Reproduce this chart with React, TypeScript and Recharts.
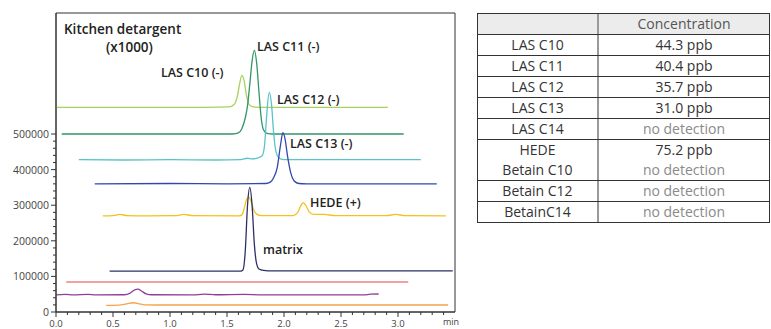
import { LineChart, Line, XAxis, YAxis, ReferenceArea, Label } from "recharts";

// chromatogram traces, [min, intensity]
const lasC10: [number, number][] = [
  [0, 575000], [1.3, 575000], [1.52, 576000], [1.56, 582000], [1.59, 605000], [1.61, 640000],
  [1.63, 665000], [1.65, 650000], [1.67, 610000], [1.69, 585000], [1.72, 577000], [1.78, 575000], [2.91, 575000],
];
const lasC11: [number, number][] = [
  [0.05, 500000], [1.55, 500000], [1.6, 503000], [1.63, 515000], [1.66, 545000], [1.68, 580000], [1.7, 640000],
  [1.72, 705000], [1.74, 735000], [1.76, 700000], [1.78, 620000], [1.8, 545000], [1.82, 512000], [1.85, 502000],
  [1.9, 500000], [3.05, 500000],
];
const lasC12: [number, number][] = [
  [0.2, 428000], [0.6, 427000], [1.0, 428000], [1.4, 427000], [1.62, 428000], [1.68, 432000], [1.72, 430000],
  [1.78, 434000], [1.81, 440000], [1.83, 470000], [1.85, 560000], [1.87, 617000], [1.89, 585000], [1.91, 500000],
  [1.93, 450000], [1.96, 432000], [2.0, 428000], [3.2, 428000],
];
const lasC13: [number, number][] = [
  [0.34, 360000], [1.0, 361000], [1.5, 360000], [1.84, 361000], [1.88, 365000], [1.91, 378000], [1.94, 405000],
  [1.97, 470000], [1.99, 504000], [2.01, 485000], [2.03, 440000], [2.06, 390000], [2.09, 368000], [2.13, 361000],
  [2.2, 360000], [3.34, 360000],
];
const hede: [number, number][] = [
  [0.41, 270000], [0.5, 271000], [0.56, 274000], [0.62, 271000], [0.8, 270000], [1.05, 270500], [1.12, 274000],
  [1.2, 271000], [1.6, 270000], [1.63, 273000], [1.65, 290000], [1.67, 315000], [1.69, 322000], [1.71, 312000],
  [1.73, 290000], [1.76, 275000], [1.8, 271000], [2.08, 271000], [2.12, 280000], [2.15, 300000], [2.17, 307000],
  [2.19, 300000], [2.22, 282000], [2.26, 274000], [2.35, 274000], [2.45, 271000], [2.9, 271000], [2.98, 274000],
  [3.06, 271000], [3.42, 270000],
];
const matrix: [number, number][] = [
  [0.47, 115000], [1.62, 115000], [1.64, 118000], [1.66, 170000], [1.68, 300000], [1.7, 350000], [1.72, 300000],
  [1.74, 190000], [1.76, 135000], [1.78, 121000], [1.82, 117000], [1.9, 115500], [3.48, 115500],
];
const pinkTrace: [number, number][] = [[0.09, 84500], [3.09, 84500]];
const purpleTrace: [number, number][] = [
  [0, 48000], [0.08, 49500], [0.15, 48000], [0.28, 49500], [0.35, 48000], [0.6, 48500], [0.65, 53000],
  [0.69, 62000], [0.72, 64500], [0.75, 59000], [0.79, 51000], [0.84, 48500], [1.2, 48000], [1.3, 50000],
  [1.4, 48500], [1.65, 49500], [1.8, 48000], [2.7, 48000], [2.76, 50000], [2.83, 50500],
];
const orangeTrace: [number, number][] = [
  [0.44, 18500], [0.55, 19500], [0.62, 23000], [0.68, 26000], [0.73, 23000], [0.78, 20000], [0.9, 19700], [3.44, 19700],
];

const xTicks = [
  0, 0.1, 0.2, 0.3, 0.4, 0.5, 0.6, 0.7, 0.8, 0.9, 1.0, 1.1, 1.2, 1.3, 1.4, 1.5, 1.6, 1.7,
  1.8, 1.9, 2.0, 2.1, 2.2, 2.3, 2.4, 2.5, 2.6, 2.7, 2.8, 2.9, 3.0, 3.1, 3.2, 3.3, 3.4,
];
const xLabels = [0, 0.5, 1.0, 1.5, 2.0, 2.5, 3.0];
const yTicks = [
  0, 20000, 40000, 60000, 80000, 100000, 120000, 140000, 160000, 180000, 200000, 220000, 240000,
  260000, 280000, 300000, 320000, 340000, 360000, 380000, 400000, 420000, 440000, 460000, 480000, 500000,
];
const yLabels = [0, 100000, 200000, 300000, 400000, 500000];

// table
const compounds = ["LAS C10", "LAS C11", "LAS C12", "LAS C13", "LAS C14", "HEDE", "Betain C10", "Betain C12", "BetainC14"];
const concentrations = ["44.3 ppb", "40.4 ppb", "35.7 ppb", "31.0 ppb", "no detection", "75.2 ppb", "no detection", "no detection", "no detection"];
const rowGroups = [[0], [1], [2], [3], [4], [5, 6], [7], [8]];

const toPoints = (arr: [number, number][]) => arr.map(([t, v]) => ({ t, v }));

const series = [
  { key: "c10", data: lasC10, color: "#a5d15c", width: 1.3 },
  { key: "c11", data: lasC11, color: "#36946a", width: 1.3 },
  { key: "c12", data: lasC12, color: "#59c3c9", width: 1.3 },
  { key: "c13", data: lasC13, color: "#3347ad", width: 1.3 },
  { key: "hede", data: hede, color: "#f3c21c", width: 1.3 },
  { key: "matrix", data: matrix, color: "#2c2f66", width: 1.3 },
  { key: "pink", data: pinkTrace, color: "#f2a0a2", width: 2 },
  { key: "purple", data: purpleTrace, color: "#8f3f95", width: 1.3 },
  { key: "orange", data: orangeTrace, color: "#f5a34c", width: 1.3 },
];

const annotations = [
  { text: "Kitchen detargent", x: 64, y: 29, size: 13.5 },
  { text: "(x1000)", x: 106, y: 47, size: 13.5 },
  { text: "LAS C11 (-)", x: 257, y: 46, size: 12.5 },
  { text: "LAS C10 (-)", x: 161, y: 72, size: 12.5 },
  { text: "LAS C12 (-)", x: 277, y: 99, size: 12.5 },
  { text: "LAS C13 (-)", x: 290, y: 143, size: 12.5 },
  { text: "HEDE (+)", x: 310, y: 202, size: 12.5 },
  { text: "matrix", x: 263, y: 249, size: 12.5 },
];

const YTick = ({ x, y, payload }: any) => {
  const v = payload.value;
  const major = yLabels.includes(v);
  return (
    <g>
      <line x1={x - (major ? 5 : 3)} x2={x} y1={y} y2={y} stroke="#333" strokeWidth={1} />
      {major && (
        <text x={x - 7} y={y} textAnchor="end" dominantBaseline="central" fontSize={10.5} fill="#444" fontFamily="Open Sans">
          {v}
        </text>
      )}
    </g>
  );
};

const XTick = ({ x, y, payload }: any) => {
  const v = payload.value;
  const major = xLabels.some((m) => Math.abs(m - v) < 1e-6);
  return (
    <g>
      <line x1={x} x2={x} y1={y} y2={y + (major ? 5 : 3)} stroke="#333" strokeWidth={1} />
      {major && (
        <text x={x} y={y + 7} textAnchor="middle" dominantBaseline="hanging" fontSize={9.5} fill="#444" fontFamily="Open Sans">
          {v.toFixed(1)}
        </text>
      )}
    </g>
  );
};

const Table = () => (
  <div
    style={{
      position: "absolute", left: 477, top: 13, width: 293, border: "1px solid #333",
      fontFamily: "Open Sans", fontSize: 14, color: "#333", boxSizing: "border-box",
    }}
  >
    <div style={{ display: "flex", height: 20, background: "#ececec", borderBottom: "1px solid #333" }}>
      <div style={{ width: 119, borderRight: "2px solid #9a9a9a" }} />
      <div style={{ flex: 1, textAlign: "center", lineHeight: "20px", color: "#555" }}>Concentration</div>
    </div>
    {rowGroups.map((g, gi) => (
      <div
        key={gi}
        style={{ display: "flex", borderBottom: gi < rowGroups.length - 1 ? "1px solid #333" : "none" }}
      >
        <div style={{ width: 119, borderRight: "2px solid #9a9a9a", textAlign: "center" }}>
          {g.map((i) => (
            <div key={i} style={{ height: 20, lineHeight: "20px" }}>{compounds[i]}</div>
          ))}
        </div>
        <div style={{ flex: 1, textAlign: "center" }}>
          {g.map((i) => (
            <div
              key={i}
              style={{ height: 20, lineHeight: "20px", color: concentrations[i] === "no detection" ? "#8a8a8a" : "#333" }}
            >
              {concentrations[i]}
            </div>
          ))}
        </div>
      </div>
    ))}
  </div>
);

export default function App() {
  return (
    <div style={{ position: "absolute", left: 0, top: 0, width: 771, height: 329, background: "#fff", overflow: "hidden" }}>
      <LineChart width={466} height={329} margin={{ top: 13, right: 11, left: 0, bottom: 0 }}>
        <XAxis
          type="number"
          dataKey="t"
          domain={[0, 3.5]}
          ticks={xTicks}
          interval={0}
          tickSize={0}
          tickMargin={0}
          tickLine={false}
          tick={<XTick />}
          axisLine={{ stroke: "#333" }}
          height={17}
          allowDataOverflow
        >
          <Label value="min" position="insideRight" offset={-4} dy={1} fontSize={9} fill="#444" fontFamily="Open Sans" />
        </XAxis>
        <YAxis
          type="number"
          dataKey="v"
          domain={[0, 840000]}
          ticks={yTicks}
          interval={0}
          tickSize={0}
          tickMargin={0}
          tickLine={false}
          tick={<YTick />}
          axisLine={{ stroke: "#333" }}
          width={56}
          allowDataOverflow
        />
        <ReferenceArea x1={0} x2={3.5} y1={0} y2={840000} fill="none" stroke="#333" strokeWidth={1} fillOpacity={0} />
        {series.map((s) => (
          <Line
            key={s.key}
            data={toPoints(s.data)}
            dataKey="v"
            type="monotone"
            stroke={s.color}
            strokeWidth={s.width}
            dot={false}
            activeDot={false}
            isAnimationActive={false}
          />
        ))}
      </LineChart>
      <svg width={460} height={329} style={{ position: "absolute", left: 0, top: 0, pointerEvents: "none" }}>
        {annotations.map((a) => (
          <text
            key={a.text}
            x={a.x}
            y={a.y}
            dominantBaseline="central"
            fontSize={a.size}
            fontWeight={600}
            fill="#222"
            fontFamily="Open Sans"
          >
            {a.text}
          </text>
        ))}
      </svg>
      <Table />
    </div>
  );
}
